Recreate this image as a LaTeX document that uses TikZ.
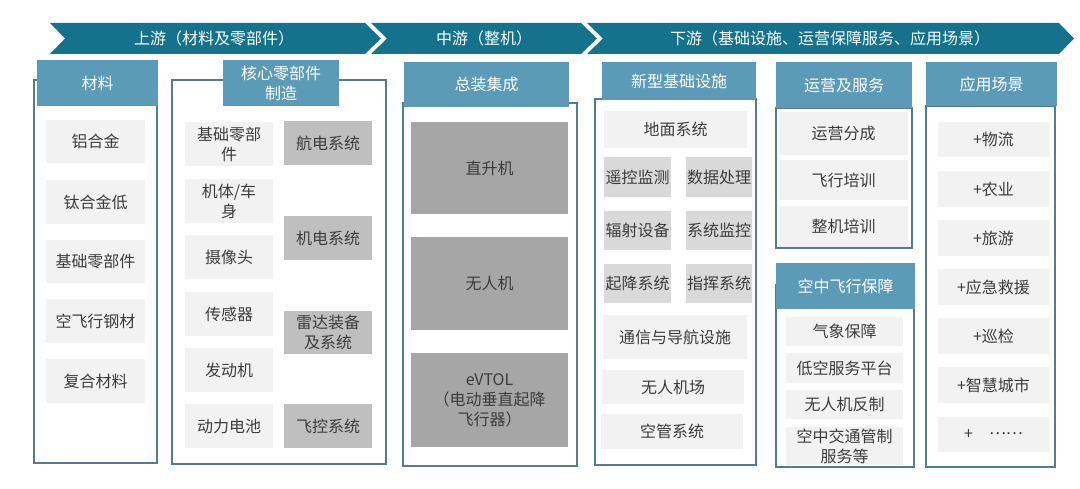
\documentclass[tikz,border=0pt]{standalone}
\usepackage{fontspec}
\newfontfamily\cjk{Noto Sans CJK SC}
\definecolor{banner}{RGB}{20,114,140}
\definecolor{hdrc}{RGB}{92,155,183}
\definecolor{framec}{RGB}{84,124,144}
\definecolor{lightc}{RGB}{242,242,242}
\definecolor{midc}{RGB}{217,217,217}
\definecolor{grayc}{RGB}{191,191,191}
\definecolor{darkc}{RGB}{166,166,166}
\definecolor{txt}{RGB}{60,60,60}
\tikzset{
 base/.style={inner sep=0pt, outer sep=0pt, align=center, font=\cjk\fontsize{16}{20}\selectfont, text=txt},
 light/.style={base, fill=lightc},
 mid/.style={base, fill=midc},
 gray/.style={base, fill=grayc},
 dark/.style={base, fill=darkc},
 hdr/.style={base, fill=hdrc, text=white},
 frame/.style={draw=framec, line width=1.2pt},
 band/.style={fill=banner},
 bandtext/.style={base, text=white}
}
\newcommand\bx[7]{\node[#6, minimum width={(#4-#2)*1pt}, minimum height={(#5-#3)*1pt}] (#1) at ({(#2+#4)/2},{(#3+#5)/2}) {#7};}
\begin{document}
\begin{tikzpicture}[x=1pt,y=-1pt]
\useasboundingbox[fill=white] (0,0) rectangle (1080,489);
% banner
\fill[band] (50,23) -- (365,23) -- (381,38.5) -- (365,54) -- (50,54) -- (65,38.5) -- cycle;
\fill[band] (371,23) -- (581,23) -- (597,38.5) -- (581,54) -- (371,54) -- (387,38.5) -- cycle;
\fill[band] (587,23) -- (1059,23) -- (1074,38.5) -- (1059,54) -- (587,54) -- (603,38.5) -- cycle;
\node[bandtext] (b1) at (214,38.5) {上游（材料及零部件）};
\node[bandtext] (b2) at (484,38.5) {中游（整机）};
\node[bandtext] (b3) at (830,38.5) {下游（基础设施、运营保障服务、应用场景）};
% frames
\draw[frame] (34,80) rectangle (157,463);
\draw[frame] (172,80) rectangle (386,464);
\draw[frame] (403,103) rectangle (577,466);
\draw[frame] (595,99) rectangle (756,465);
\draw[frame] (776,108) rectangle (912,248);
\draw[frame] (776,285) rectangle (914,467);
\draw[frame] (926,106) rectangle (1055,467);
% headers
\bx{h1}{37}{60}{158}{106}{hdr}{材料}
\bx{h2}{223}{60}{339}{106}{hdr}{核心零部件\\制造}
\bx{h3}{404}{62}{569}{107}{hdr}{总装集成}
\bx{h4}{602}{62}{756}{100}{hdr}{新型基础设施}
\bx{h5}{776}{62}{912}{108}{hdr}{运营及服务}
\bx{h6}{776}{263}{915}{309}{hdr}{空中飞行保障}
\bx{h7}{926}{62}{1057}{106}{hdr}{应用场景}
% materials
\bx{m1}{46}{120}{145}{163}{light}{铝合金}
\bx{m2}{46}{180}{145}{224}{light}{钛合金低}
\bx{m3}{46}{240}{145}{283}{light}{基础零部件}
\bx{m4}{46}{299}{145}{343}{light}{空飞行钢材}
\bx{m5}{46}{359}{145}{403}{light}{复合材料}
% core parts
\bx{c1}{185}{122}{273}{166}{light}{基础零部\\件}
\bx{c2}{185}{179}{273}{223}{light}{机体/车\\身}
\bx{c3}{185}{235}{273}{279}{light}{摄像头}
\bx{c4}{185}{292}{273}{336}{light}{传感器}
\bx{c5}{185}{348}{273}{392}{light}{发动机}
\bx{c6}{185}{404}{273}{448}{light}{动力电池}
\bx{d1}{284}{121}{372}{165}{gray}{航电系统}
\bx{d2}{284}{216}{372}{260}{gray}{机电系统}
\bx{d3}{284}{311}{372}{354}{gray}{雷达装备\\及系统}
\bx{d4}{284}{404}{372}{448}{gray}{飞控系统}
% assembly
\bx{z1}{411}{122}{568}{214}{dark}{直升机}
\bx{z2}{411}{237}{568}{330}{dark}{无人机}
\bx{z3}{411}{353}{568}{447}{dark}{eVTOL\\（电动垂直起降\\飞行器）}
% infrastructure
\bx{n1}{604}{111}{747}{148}{light}{地面系统}
\bx{n2}{604}{157}{671}{197}{mid}{遥控监测}
\bx{n3}{686}{157}{752}{197}{mid}{数据处理}
\bx{n4}{604}{211}{671}{250}{mid}{辐射设备}
\bx{n5}{686}{211}{752}{250}{mid}{系统监控}
\bx{n6}{604}{264}{671}{303}{mid}{起降系统}
\bx{n7}{686}{264}{752}{303}{mid}{指挥系统}
\bx{n8}{603}{315}{747}{359}{light}{通信与导航设施}
\bx{n9}{602}{370}{744}{404}{light}{无人机场}
\bx{n10}{601}{414}{743}{449}{light}{空管系统}
% operations
\bx{o1}{779}{112}{908}{155}{light}{运营分成}
\bx{o2}{779}{160}{908}{200}{light}{飞行培训}
\bx{o3}{779}{206}{908}{247}{light}{整机培训}
% flight support
\bx{k1}{786}{317}{903}{346}{light}{气象保障}
\bx{k2}{786}{353}{903}{383}{light}{低空服务平台}
\bx{k3}{786}{390}{903}{419}{light}{无人机反制}
\bx{k4}{786}{427}{903}{465}{light}{空中交通管制\\服务等}
% applications
\bx{a1}{938}{122}{1049}{157}{light}{+物流}
\bx{a2}{938}{171}{1049}{207}{light}{+农业}
\bx{a3}{938}{220}{1049}{256}{light}{+旅游}
\bx{a4}{938}{269}{1049}{305}{light}{+应急救援}
\bx{a5}{938}{318}{1049}{354}{light}{+巡检}
\bx{a6}{938}{367}{1049}{403}{light}{+智慧城市}
\bx{a7}{938}{417}{1049}{452}{light}{+\quad\raisebox{0.3em}{……}}
\end{tikzpicture}
\end{document}
